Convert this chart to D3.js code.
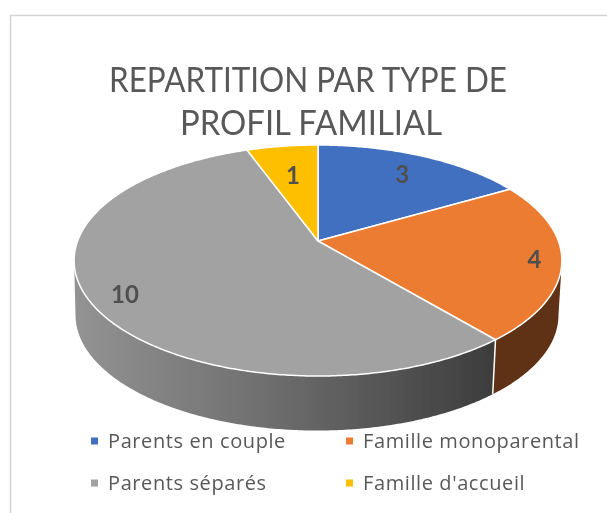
<!DOCTYPE html>
<html>
<head>
<meta charset="utf-8">
<script src="https://d3js.org/d3.v7.min.js"></script>
<style>
  html, body { margin: 0; padding: 0; background: #fff; }
  svg { display: block; }
</style>
</head>
<body>
<div id="chart"></div>
<script>
// DATA
const categories = ["Parents en couple", "Famille monoparental", "Parents séparés", "Famille d'accueil"];
const values = [3, 4, 10, 1];
const colors = ["#4270c0", "#eb7c31", "#a2a2a2", "#fdbf00"];
const titleLines = ["REPARTITION PAR TYPE DE", "PROFIL FAMILIAL"];

function drawChart() {
  const width = 607;
  const height = 513;
  const svg = d3.select("#chart").append("svg")
    .attr("width", width)
    .attr("height", height);

  const defs = svg.append("defs");
  defs.append("filter").attr("id", "soft")
    .append("feGaussianBlur").attr("stdDeviation", 0.6);
  const grad = defs.append("linearGradient").attr("id", "rimGray")
    .attr("gradientUnits", "userSpaceOnUse")
    .attr("x1", 75).attr("x2", 492).attr("y1", 0).attr("y2", 0);
  grad.append("stop").attr("offset", 0).attr("stop-color", "#939393");
  grad.append("stop").attr("offset", 0.5).attr("stop-color", "#6b6b6b");
  grad.append("stop").attr("offset", 1).attr("stop-color", "#3d3d3d");

  const root = svg.append("g").attr("filter", "url(#soft)");

  // chart frame, only the top and left sides show
  root.append("path")
    .attr("d", d3.line()([[width + 5, 15.5], [10.5, 15.5], [10.5, height + 5]]))
    .attr("fill", "none")
    .attr("stroke", "#d4d4d4")
    .attr("stroke-width", 1.5);

  // title, squeezed to the narrower width of the original face
  const titleWidths = [398, 262];
  const titleCenters = [308, 311];
  root.selectAll(".title")
    .data(titleLines)
    .join("text")
    .attr("class", "title")
    .attr("x", (d, i) => titleCenters[i])
    .attr("y", (d, i) => 92 + i * 43)
    .attr("text-anchor", "middle")
    .attr("font-family", "Lato")
    .attr("font-size", 35)
    .attr("fill", "#595959")
    .attr("textLength", (d, i) => titleWidths[i])
    .attr("lengthAdjust", "spacingAndGlyphs")
    .text(d => d);

  // pie layout, 0 = 12 o'clock and clockwise
  const slices = d3.pie().sort(null)(values);

  // tilted disc: perspective projection of the unit circle
  const k = 0.169;
  const topX = d3.scaleLinear().domain([0, 1]).range([318, 318 + 240.4]);
  const topY = d3.scaleLinear().domain([0, 1]).range([241, 241 + 112.2]);
  const botX = d3.scaleLinear().domain([0, 1]).range([317, 317 + 238]);
  const botY = d3.scaleLinear().domain([0, 1]).range([295.5, 295.5 + 112.2]);

  function project(angle, r, sx, sy) {
    const u = r * Math.sin(angle);
    const v = -r * Math.cos(angle);
    const w = 1 - k * v;
    return [sx(u / w), sy(v / w)];
  }
  function arcPoints(a0, a1, sx, sy) {
    const n = Math.max(2, Math.ceil(Math.abs(a1 - a0) / 0.01));
    return d3.range(n + 1).map(i => project(a0 + (a1 - a0) * i / n, 1, sx, sy));
  }
  const line = d3.line();

  // side wall, the part of it that faces the viewer
  const silR = Math.acos(-k);
  const silL = 2 * Math.PI - silR;
  const rimSlices = [
    { a0: silR, a1: slices[1].endAngle, fill: "#5e3112" },
    { a0: slices[2].startAngle, a1: silL, fill: "url(#rimGray)" }
  ];
  root.selectAll(".rim")
    .data(rimSlices)
    .join("path")
    .attr("class", "rim")
    .attr("d", d => line(arcPoints(d.a0, d.a1, topX, topY)
      .concat(arcPoints(d.a1, d.a0, botX, botY))) + "Z")
    .attr("fill", d => d.fill);

  // white seam between the two wall pieces
  root.append("path")
    .attr("d", line([
      project(slices[2].startAngle, 1, topX, topY),
      project(slices[2].startAngle, 1, botX, botY)
    ]))
    .attr("stroke", "#fff")
    .attr("stroke-width", 1.5);

  // top face
  root.selectAll(".slice")
    .data(slices)
    .join("path")
    .attr("class", "slice")
    .attr("d", d => line([[topX(0), topY(0)]]
      .concat(arcPoints(d.startAngle, d.endAngle, topX, topY))) + "Z")
    .attr("fill", (d, i) => colors[i])
    .attr("stroke", "#fff")
    .attr("stroke-width", 1.5)
    .attr("stroke-linejoin", "round");

  // value labels, radius tuned per slice like the original's best fit
  const labelRadius = [0.78, 0.89, 0.86, 0.67];
  root.selectAll(".value")
    .data(slices)
    .join("text")
    .attr("class", "value")
    .attr("x", (d, i) => project((d.startAngle + d.endAngle) / 2, labelRadius[i], topX, topY)[0])
    .attr("y", (d, i) => project((d.startAngle + d.endAngle) / 2, labelRadius[i], topX, topY)[1])
    .attr("dy", "0.4em")
    .attr("text-anchor", "middle")
    .attr("font-family", "Lato")
    .attr("font-weight", 700)
    .attr("font-size", 24)
    .attr("fill", "#505050")
    .text(d => d.value);

  // legend, two columns by two rows
  const legendX = d3.scalePoint().domain([0, 1]).range([91, 346]);
  const legendY = d3.scalePoint().domain([0, 1]).range([441, 483]);
  const legend = root.selectAll(".legend")
    .data(categories)
    .join("g")
    .attr("class", "legend")
    .attr("transform", (d, i) => `translate(${legendX(i % 2)},${legendY(Math.floor(i / 2))})`);
  legend.append("rect")
    .attr("y", -3.5)
    .attr("width", 7)
    .attr("height", 7)
    .attr("fill", (d, i) => colors[i]);
  legend.append("text")
    .attr("x", 17)
    .attr("y", 6.5)
    .attr("font-family", "Open Sans")
    .attr("font-size", 20)
    .attr("letter-spacing", 0.6)
    .attr("fill", "#595959")
    .text(d => d);
}

document.addEventListener("DOMContentLoaded", drawChart);
</script>
</body>
</html>
